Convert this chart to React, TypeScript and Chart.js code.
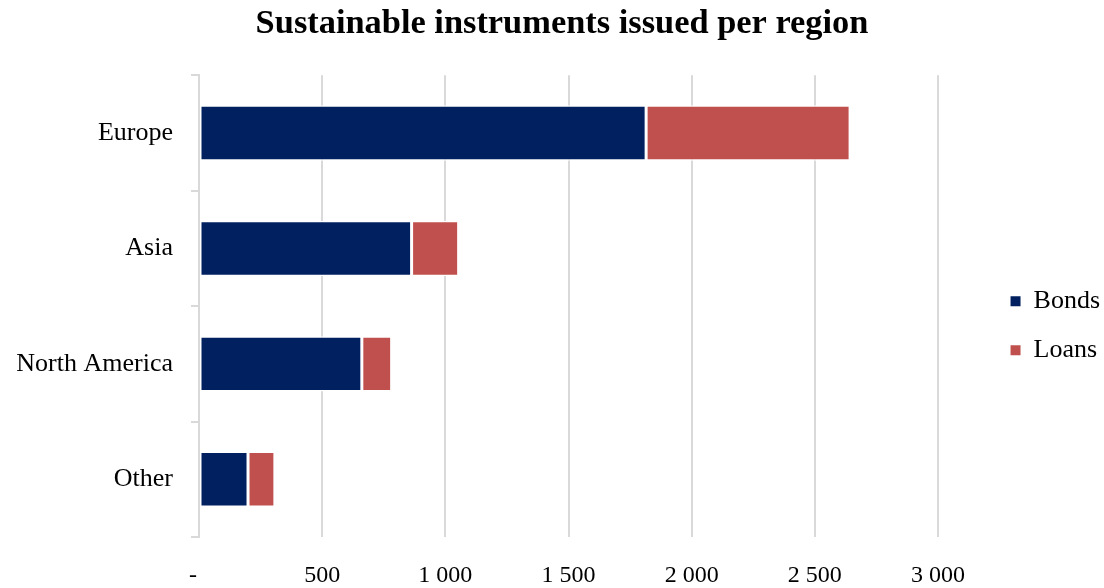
import { useEffect, useRef } from "react";
import { Chart, registerables } from "chart.js";

Chart.register(...registerables);

// Issuance per region, split by instrument type
const regions = ["Europe", "Asia", "North America", "Other"];
const bonds = [1815, 863, 661, 199];
const loans = [828, 191, 121, 109];

// Value axis
const xMin = 0;
const xMax = 3000;
const xStep = 500;

const NAVY = "#002060";
const RED = "#C0504D";
const GRID = "#d9d9d9";
const SERIF = "'Liberation Serif', 'Times New Roman', serif";

// Accounting-style labels: dash for zero, space as thousands separator
function formatTick(value: number): string {
  if (value === 0) return "-  ";
  return String(value).replace(/\B(?=(\d{3})+(?!\d))/g, " ");
}

export default function App() {
  const canvasRef = useRef<HTMLCanvasElement>(null);

  useEffect(() => {
    const canvas = canvasRef.current;
    if (!canvas) return;

    const chart = new Chart(canvas, {
      type: "bar",
      data: {
        labels: regions,
        datasets: [
          {
            label: "Bonds",
            data: bonds,
            backgroundColor: NAVY,
            borderColor: "#ffffff",
            borderWidth: 1.5,
            borderSkipped: false,
          },
          {
            label: "Loans",
            data: loans,
            backgroundColor: RED,
            borderColor: "#ffffff",
            borderWidth: 1.5,
            borderSkipped: false,
          },
        ],
      },
      options: {
        indexAxis: "y",
        animation: false,
        responsive: false,
        maintainAspectRatio: false,
        datasets: {
          bar: { barPercentage: 0.48, categoryPercentage: 1 },
        },
        layout: { padding: { left: 14, right: -6, top: 0, bottom: 0 } },
        plugins: {
          title: {
            display: true,
            text: "Sustainable instruments issued per region",
            color: "#000",
            font: { family: SERIF, size: 34.4, weight: "bold" },
            padding: { top: 3, bottom: 31 },
          },
          legend: {
            position: "right",
            fullSize: false,
            title: { display: true, text: "", padding: { top: 24.6, bottom: 0 } },
            labels: {
              boxWidth: 10,
              boxHeight: 10,
              padding: 23,
              color: "#000",
              font: { family: SERIF, size: 26 },
              generateLabels: (c: any) =>
                Chart.defaults.plugins.legend.labels
                  .generateLabels(c)
                  .map((item: any) => ({ ...item, lineWidth: 0 })),
            },
          },
          tooltip: { enabled: false },
        },
        scales: {
          x: {
            stacked: true,
            min: xMin,
            max: xMax,
            ticks: {
              stepSize: xStep,
              color: "#000",
              font: { family: SERIF, size: 24 },
              padding: 24,
              maxRotation: 0,
              callback: (v: any) => formatTick(Number(v)),
            },
            grid: { color: GRID, lineWidth: 2, drawTicks: false },
            border: { display: false },
            afterFit: (scale: any) => {
              scale.height = 51;
            },
          },
          y: {
            stacked: true,
            ticks: {
              color: "#000",
              font: { family: SERIF, size: 26 },
              padding: 18,
            },
            grid: {
              drawOnChartArea: false,
              drawTicks: true,
              tickLength: 8,
              color: GRID,
              lineWidth: 2,
              offset: true,
            },
            border: { display: true, color: GRID, width: 2 },
            afterFit: (scale: any) => {
              scale.width = 185;
            },
          },
          // empty band between the plot and the legend
          spacer: {
            type: "linear",
            position: "right",
            display: true,
            grid: { display: false },
            border: { display: false },
            ticks: { display: false },
            afterFit: (scale: any) => {
              scale.width = 49.5;
            },
          },
        },
      } as any,
    });

    return () => chart.destroy();
  }, []);

  return (
    <div
      style={{
        position: "fixed",
        left: 0,
        top: 0,
        width: 1104,
        height: 588,
        background: "#ffffff",
      }}
    >
      <canvas ref={canvasRef} width={1104} height={588} style={{ display: "block" }} />
    </div>
  );
}
